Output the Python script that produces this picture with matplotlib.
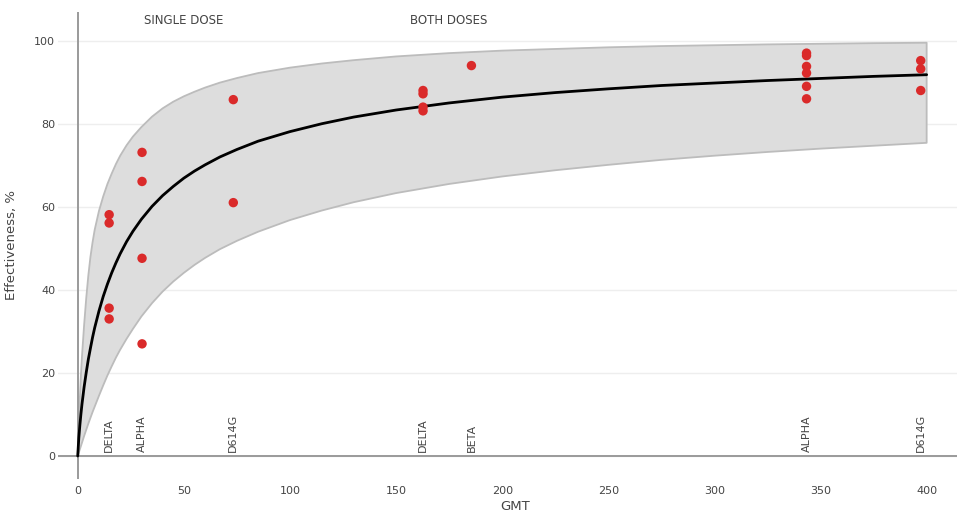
import numpy as np
import matplotlib
matplotlib.use('Agg')
import matplotlib.pyplot as plt

# fitted curve and its band
gmt_grid = [0, 0.5, 1, 1.5, 2, 3, 4, 5, 6, 7, 8, 10, 12, 14, 16, 18, 20, 23, 26,
            30, 35, 40, 45, 50, 55, 60, 67, 75, 85, 100, 115, 130, 150, 175,
            200, 225, 250, 275, 300, 325, 350, 375, 400]
eff_mid = [0, 4.3, 7.4, 10.1, 12.5, 16.6, 20.1, 23.3, 26.0, 28.6, 30.9, 34.9,
           38.4, 41.4, 44.1, 46.5, 48.7, 51.6, 54.1, 57.0, 60.1, 62.7, 64.9,
           66.9, 68.6, 70.1, 72.0, 73.8, 75.8, 78.1, 80.0, 81.6, 83.3, 85.0,
           86.4, 87.5, 88.4, 89.2, 89.8, 90.4, 90.9, 91.4, 91.8]
eff_hi = [0, 8, 14, 19.5, 24, 31.5, 38, 43.5, 48, 51.5, 54.5, 59, 62.5, 65.5,
          68, 70.3, 72.3, 74.8, 76.9, 79.2, 81.7, 83.7, 85.3, 86.6, 87.7, 88.7,
          89.9, 91.0, 92.2, 93.5, 94.5, 95.3, 96.2, 97.0, 97.6, 98.0, 98.4,
          98.7, 98.9, 99.1, 99.25, 99.4, 99.5]
eff_lo = [0, 0.8, 1.6, 2.4, 3.2, 4.8, 6.3, 7.8, 9.2, 10.6, 11.9, 14.5, 17, 19.4,
          21.6, 23.7, 25.6, 28.2, 30.6, 33.6, 36.8, 39.6, 42, 44.1, 46, 47.7,
          49.8, 51.8, 54.0, 56.8, 59.1, 61.1, 63.3, 65.5, 67.3, 68.8, 70.1,
          71.3, 72.3, 73.2, 74.0, 74.7, 75.4]

# observed points
obs_gmt = [14.8, 14.8, 14.8, 14.8,
           30.3, 30.3, 30.3, 30.3,
           73.3, 73.3,
           162.7, 162.7, 162.7, 162.7,
           185.5,
           343.4, 343.4, 343.4, 343.4, 343.4, 343.4,
           397.2, 397.2, 397.2]
obs_eff = [58.1, 56.1, 35.6, 33.0,
           73.1, 66.1, 47.6, 27.0,
           85.8, 61.0,
           88.0, 87.2, 84.0, 83.1,
           94.0,
           97.0, 96.4, 93.8, 92.2, 89.0, 86.0,
           95.2, 93.2, 88.0]

variant_names = ['DELTA', 'ALPHA', 'D614G', 'DELTA', 'BETA', 'ALPHA', 'D614G']
variant_gmt = [14.8, 30.3, 73.3, 162.7, 185.5, 343.4, 397.2]

group_names = ['SINGLE DOSE', 'BOTH DOSES']
group_gmt = [50, 175]

W, H = 957, 515
fig = plt.figure(figsize=(W / 100, H / 100), dpi=100)
ax = fig.add_axes([58 / W, (H - 479) / H, (957 - 58) / W, (479 - 12) / H])

txt = '#444444'

# band
band_x = gmt_grid + gmt_grid[::-1]
band_y = eff_hi + eff_lo[::-1]
ax.fill(band_x, band_y, facecolor='#dddddd', edgecolor='#bcbcbc', lw=1.3,
        joinstyle='round', zorder=2)

ax.plot(gmt_grid, eff_mid, color='black', lw=2.0, zorder=4,
        solid_capstyle='round', solid_joinstyle='round')
ax.scatter(obs_gmt, obs_eff, s=46, color='#da2a2a', edgecolors='none', zorder=5)

ax.set_xlim(-9.3, 414.3)
ax.set_ylim(-5.54, 106.9)

for s in ax.spines.values():
    s.set_visible(False)
ax.axhline(0, color='#9a9a9a', lw=1.4, zorder=3)
ax.axvline(0, color='#9a9a9a', lw=1.4, zorder=3)

ax.set_yticks([0, 20, 40, 60, 80, 100])
ax.set_xticks([0, 50, 100, 150, 200, 250, 300, 350, 400])
ax.yaxis.grid(True, color='#eeeeee', lw=1, zorder=0)
ax.set_axisbelow(True)
ax.tick_params(axis='both', length=0, labelsize=8, labelcolor=txt)
ax.tick_params(axis='y', pad=2)
ax.tick_params(axis='x', pad=5)

for name, g in zip(variant_names, variant_gmt):
    ax.text(g, 0.9, name, rotation=90, ha='center', va='bottom',
            fontsize=8, color=txt, zorder=6)

for name, g in zip(group_names, group_gmt):
    ax.text(g, 104.9, name, ha='center', va='center', fontsize=8.5, color=txt)

ax.set_xlabel('GMT', fontsize=9.5, color=txt)
ax.set_ylabel('Effectiveness, %', fontsize=9.5, color=txt)
ax.xaxis.set_label_coords((515 - 58) / (957 - 58), -(500 - 479) / (479 - 12),
                          transform=ax.transAxes)
ax.yaxis.set_label_coords(-(58 - 18) / (957 - 58), 0.5, transform=ax.transAxes)

fig.savefig('out.png', dpi=100)
